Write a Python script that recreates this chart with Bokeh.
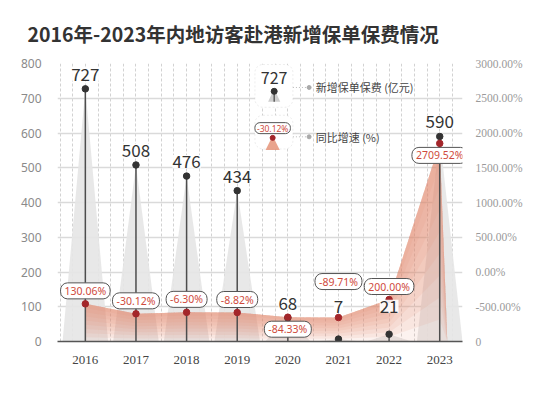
import numpy as np
from bokeh.plotting import figure
from bokeh.models import (Range1d, LinearAxis, FixedTicker, ColumnDataSource,
                          LabelSet, Label, BoxAnnotation)
from bokeh.core.properties import value
from bokeh.embed import file_html
from bokeh.resources import INLINE

# ---------------- data ----------------
years = ["2016", "2017", "2018", "2019", "2020", "2021", "2022", "2023"]
premium = [727, 508, 476, 434, 68, 7, 21, 590]                       # 亿元
growth = [130.06, -30.12, -6.30, -8.82, -84.33, -89.71, 200.00, 2709.52]  # %
growth_labels = ["130.06%", "-30.12%", "-6.30%", "-8.82%", "-84.33%",
                 "-89.71%", "200.00%", "2709.52%"]
left_ticks = [0, 100, 200, 300, 400, 500, 600, 700, 800]
right_ticks = [-1000, -500, 0, 500, 1000, 1500, 2000, 2500, 3000]
right_tick_labels = ["0", "-500.00%", "0.00%", "500.00%", "1000.00%",
                     "1500.00%", "2000.00%", "2500.00%", "3000.00%"]
title_text = "2016年-2023年内地访客赴港新增保单保费情况"
legend_premium = "新增保单保费 (亿元)"
legend_growth = "同比增速 (%)"

# ---------------- styling ----------------
x = np.arange(len(years), dtype=float)
# screen-pixel offsets of the growth-rate label boxes (negative = above)
rate_label_offsets = [-13, -13, -13, -13, 12, -36, -13, 12]

GRAY = "#e6e6e6"
SALMON = "#e48d70"
RED_TXT = "#cf4a3c"
RED_DOT = "#a3262a"

p = figure(width=546, height=386,
           x_range=Range1d(-0.55, 7.45), y_range=Range1d(0, 800),
           output_backend="svg", toolbar_location=None,
           min_border_left=57, min_border_right=84,
           min_border_top=61, min_border_bottom=45)
p.extra_y_ranges = {"rate": Range1d(-475, 3994), "right": Range1d(-1000, 3000)}
p.outline_line_color = None

# title
p.title.text = title_text
p.title.text_font = "Noto Sans CJK SC"
p.title.text_font_size = "19.5px"
p.title.text_font_style = "bold"
p.title.text_color = "#333333"
p.title.align = "left"
p.title.offset = -30
p.title.standoff = 32

# grids (drawn beneath the legend boxes)
p.ygrid.ticker = FixedTicker(ticks=left_ticks)
p.ygrid.grid_line_color = "#dadada"
p.ygrid.grid_line_width = 1.5
p.xgrid.ticker = FixedTicker(ticks=list(np.arange(-0.5, 7.5, 0.25)))
p.xgrid.grid_line_color = "#d2d2d2"
p.xgrid.grid_line_dash = "3 2"
p.xgrid.grid_line_width = 1
for g in p.grid:
    g.level = "image"

# left axis
p.yaxis.ticker = FixedTicker(ticks=left_ticks)
p.yaxis.axis_line_color = None
p.yaxis.major_tick_line_color = None
p.yaxis.minor_tick_line_color = None
p.yaxis.major_label_text_color = "#8a8a8a"
p.yaxis.major_label_text_font = "Noto Sans"
p.yaxis.major_label_text_font_size = "12px"
p.yaxis.major_label_standoff = 10

# bottom axis
p.xaxis.ticker = FixedTicker(ticks=list(x))
p.xaxis.major_label_overrides = {int(i): y for i, y in zip(x, years)}
p.xaxis.axis_line_color = "#555555"
p.xaxis.axis_line_width = 1.5
p.xaxis.major_tick_line_color = None
p.xaxis.minor_tick_line_color = None
p.xaxis.major_label_text_font = "Liberation Serif"
p.xaxis.major_label_text_font_size = "13px"
p.xaxis.major_label_text_color = "#444444"
p.xaxis.major_label_standoff = 8

# right axis
ra = LinearAxis(y_range_name="right", ticker=FixedTicker(ticks=right_ticks))
ra.major_label_overrides = {t: l for t, l in zip(right_ticks, right_tick_labels)}
ra.axis_line_color = None
ra.major_tick_line_color = None
ra.minor_tick_line_color = None
ra.major_label_text_color = "#9a9a9a"
ra.major_label_text_font = "Liberation Serif"
ra.major_label_text_font_size = "11.5px"
ra.major_label_standoff = 7
p.add_layout(ra, "right")

# ---------------- legend boxes (above grid, below glyphs) ----------------
for top_y, bot_y in [(797, 674), (651, 554)]:
    p.add_layout(BoxAnnotation(left=3.35, right=4.10, top=top_y, bottom=bot_y,
                               fill_color="white", fill_alpha=1,
                               line_color="#c4c4c4", line_dash="2 2",
                               line_width=1, border_radius=8,
                               level="underlay"))

# gray spikes for premium
hw = 0.45
xs = [[xi - hw, xi, xi + hw] for xi in x]
ys = [[0, v, 0] for v in premium]
p.patches(xs, ys, fill_color=GRAY, fill_alpha=0.9, line_color=None)

# salmon gradient area for growth (layered)
base = p.extra_y_ranges["rate"].start
ax = np.append(x, x[-1] + 0.15)
top = np.append(np.array(growth), base)
n = 9
for i in range(n):
    f = i / n
    p.varea(x=ax, y1=base + (top - base) * f, y2=top,
            fill_color=SALMON, fill_alpha=0.11, y_range_name="rate")

# stems and dots
p.segment(x0=x, y0=0, x1=x, y1=premium, line_color="#4d4d4d", line_width=1.5)
p.scatter(x, premium, size=6.5, color="#333333")
p.scatter(x, growth, size=6.5, color=RED_DOT, y_range_name="rate")

# premium labels
src = ColumnDataSource(dict(
    x=x, y=np.maximum(premium, 60), t=[str(v) for v in premium]))
p.add_layout(LabelSet(x="x", y="y", text="t", source=src, y_offset=8,
                      text_align="center", text_baseline="bottom",
                      text_font=value("Noto Sans CJK SC"),
                      text_font_size=value("17px"),
                      text_color=value("#333333"),
                      background_fill_color=value("white"),
                      background_fill_alpha=0.9))

# growth labels (rounded boxes) as text glyphs
src2 = ColumnDataSource(dict(x=x, y=growth, t=growth_labels,
                             off=rate_label_offsets))
p.text(x="x", y="y", text="t", source=src2, y_offset="off",
       y_range_name="rate", text_align="center", text_baseline="middle",
       text_font=value("Noto Sans"), text_font_size="10.5px",
       text_color=RED_TXT, background_fill_color="white",
       border_line_color="#555555", border_line_width=1,
       padding=[4, 1], border_radius=7)

# ---------------- legend contents ----------------
lx = 3.73
p.add_layout(Label(x=lx, y=757, text="727", text_align="center",
                   text_baseline="middle", text_font="Noto Sans CJK SC",
                   text_font_size="16px", text_color="#333333"))
p.patch([lx - 0.12, lx, lx + 0.12], [690, 727, 690], fill_color="#cfcfcf",
        line_color=None)
p.segment(x0=[lx], y0=[690], x1=[lx], y1=[720], line_color="#444444",
          line_width=1.2)
p.scatter([lx], [720], size=6, color="#333333")

lx2 = 3.70
p.text(x=[lx2], y=[614], text=["-30.12%"], text_align="center",
       text_baseline="middle", text_font=value("Noto Sans"),
       text_font_size="8.5px", text_color=RED_TXT,
       background_fill_color="white", border_line_color="#555555",
       border_line_width=1, padding=[2, 0], border_radius=5)
p.patch([lx2 - 0.14, lx2, lx2 + 0.14], [551, 592, 551], fill_color=SALMON,
        fill_alpha=0.8, line_color=None)
p.scatter([lx2], [586], size=5, color=RED_DOT)

for yy in (731, 589):
    p.segment(x0=[4.10], y0=[yy], x1=[4.42], y1=[yy], line_color="#bbbbbb",
              line_dash="1 2", line_width=1)
    p.scatter([4.42], [yy], size=4, color="#aaaaaa")
p.add_layout(Label(x=4.55, y=731, text=legend_premium, text_baseline="middle",
                   text_font="Noto Sans CJK SC", text_font_size="11px",
                   text_color="#444444"))
p.add_layout(Label(x=4.55, y=589, text=legend_growth, text_baseline="middle",
                   text_font="Noto Sans CJK SC", text_font_size="11px",
                   text_color="#444444"))

open("out.html", "w").write(file_html(p, INLINE))
